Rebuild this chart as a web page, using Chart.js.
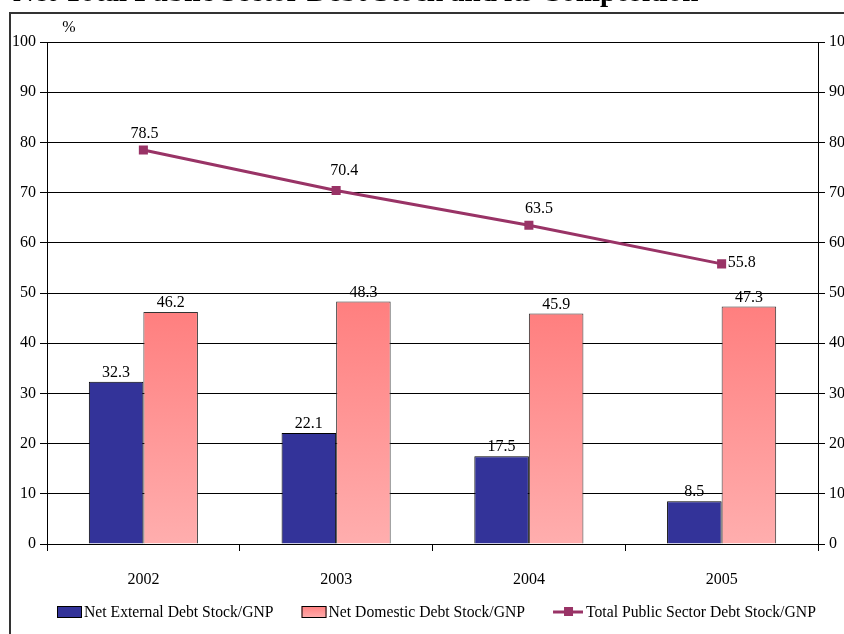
<!DOCTYPE html>
<html>
<head>
<meta charset="utf-8">
<script src="https://cdn.jsdelivr.net/npm/chart.js@4"></script>
<style>
  html, body { margin: 0; padding: 0; background: #fff; }
  #wrap { width: 844px; height: 634px; position: relative; }
</style>
</head>
<body>
<div id="wrap"><canvas id="debtChart" width="844" height="634"></canvas></div>
<script>
// Net public sector debt stock as a share of GNP
const years = ['2002', '2003', '2004', '2005'];
const externalDebt = [32.3, 22.1, 17.5, 8.5];
const domesticDebt = [46.2, 48.3, 45.9, 47.3];
const totalDebt = [78.5, 70.4, 63.5, 55.8];
const yTicks = [0, 10, 20, 30, 40, 50, 60, 70, 80, 90, 100];
const seriesNames = [
  'Net External Debt Stock/GNP',
  'Net Domestic Debt Stock/GNP',
  'Total Public Sector Debt Stock/GNP'
];
const titleText = 'Net Total Public Sector Debt Stock and its Composition';
const unitLabel = '%';

const SERIF = "'Liberation Serif', 'Times New Roman', serif";
const BLUE = '#333399';
const PINK_TOP = '#ff7f7f';
const PINK_BOTTOM = '#ffaeae';
const PLUM = '#993366';

Chart.defaults.font.family = SERIF;
Chart.defaults.font.size = 16;
Chart.defaults.color = '#000';

function pinkGradient(ctx2d, top, bottom) {
  const g = ctx2d.createLinearGradient(0, top, 0, bottom);
  g.addColorStop(0, PINK_TOP);
  g.addColorStop(1, PINK_BOTTOM);
  return g;
}

// Page frame, clipped heading and unit label
const framePlugin = {
  id: 'frame',
  beforeDraw(chart) {
    const c = chart.ctx;
    c.save();
    c.fillStyle = '#fff';
    c.fillRect(0, 0, chart.width, chart.height);
    c.restore();
  },
  afterDraw(chart) {
    const c = chart.ctx;
    c.save();
    c.strokeStyle = '#333';
    c.lineWidth = 2;
    c.beginPath();
    c.moveTo(10, chart.height);
    c.lineTo(10, 13);
    c.lineTo(chart.width, 13);
    c.stroke();

    // heading sits mostly above the top edge of the page
    c.fillStyle = '#000';
    c.font = 'bold 29px ' + SERIF;
    c.textAlign = 'left';
    c.textBaseline = 'alphabetic';
    c.fillText(titleText, 13, 1);

    c.font = '16px ' + SERIF;
    c.textAlign = 'center';
    c.textBaseline = 'middle';
    c.fillText(unitLabel, 69, 28);
    c.restore();
  }
};

// Value labels above bars and beside the line markers
const lineLabelPlacement = [
  { dx: 1, dy: -12, align: 'center', baseline: 'alphabetic' },
  { dx: 8, dy: -16, align: 'center', baseline: 'alphabetic' },
  { dx: 10, dy: -12, align: 'center', baseline: 'alphabetic' },
  { dx: 6, dy: -1, align: 'left', baseline: 'middle' }
];
const valueLabelPlugin = {
  id: 'valueLabels',
  afterDatasetsDraw(chart) {
    const c = chart.ctx;
    c.save();
    c.fillStyle = '#000';
    c.font = '16px ' + SERIF;
    chart.data.datasets.forEach((ds, di) => {
      const meta = chart.getDatasetMeta(di);
      meta.data.forEach((el, i) => {
        const text = ds.data[i].toFixed(1);
        if (ds.type === 'line') {
          const p = lineLabelPlacement[i];
          c.textAlign = p.align;
          c.textBaseline = p.baseline;
          c.fillText(text, el.x + p.dx, el.y + p.dy);
        } else {
          c.textAlign = 'center';
          c.textBaseline = 'alphabetic';
          c.fillText(text, el.x, el.y - 5);
        }
      });
    });
    c.restore();
  }
};

// Legend row along the bottom
const legendPlugin = {
  id: 'bottomLegend',
  afterDraw(chart) {
    const c = chart.ctx;
    const y = 612;
    let x = 57;
    c.save();
    c.font = '15.7px ' + SERIF;
    c.textBaseline = 'middle';
    c.textAlign = 'left';
    chart.data.datasets.forEach((ds) => {
      if (ds.type === 'line') {
        c.strokeStyle = ds.borderColor;
        c.lineWidth = 3;
        c.beginPath();
        c.moveTo(x, y);
        c.lineTo(x + 30, y);
        c.stroke();
        c.fillStyle = ds.pointBackgroundColor;
        c.fillRect(x + 11, y - 5, 9, 9);
        x += 33;
      } else {
        c.fillStyle = ds.legendFill === 'gradient' ? pinkGradient(c, y - 6, y + 6) : ds.legendFill;
        c.fillRect(x, y - 6, 25, 12);
        c.strokeStyle = '#000';
        c.lineWidth = 1;
        c.strokeRect(x + 0.5, y - 5.5, 24, 11);
        x += 27;
      }
      c.fillStyle = '#000';
      c.fillText(ds.label, x, y + 1);
      x += c.measureText(ds.label).width + 28;
    });
    c.restore();
  }
};

const useTicks = (scale) => { scale.ticks = yTicks.map(v => ({ value: v })); };

new Chart(document.getElementById('debtChart'), {
  data: {
    labels: years,
    datasets: [
      {
        type: 'bar',
        label: seriesNames[0],
        data: externalDebt,
        backgroundColor: BLUE,
        legendFill: BLUE,
        borderColor: '#000',
        borderWidth: 1,
        borderSkipped: 'bottom',
        order: 2,
        yAxisID: 'y'
      },
      {
        type: 'bar',
        label: seriesNames[1],
        data: domesticDebt,
        legendFill: 'gradient',
        backgroundColor(ctx) {
          const chart = ctx.chart;
          if (!chart.chartArea || ctx.type !== 'data') return '#ff9696';
          const top = chart.scales.y.getPixelForValue(ctx.raw);
          const base = chart.scales.y.getPixelForValue(0);
          return pinkGradient(chart.ctx, top, base);
        },
        borderColor: '#333',
        borderWidth: 1,
        borderSkipped: 'bottom',
        order: 2,
        yAxisID: 'y'
      },
      {
        type: 'line',
        label: seriesNames[2],
        data: totalDebt,
        borderColor: PLUM,
        borderWidth: 3,
        pointStyle: 'rect',
        pointRadius: 6.4,
        pointBackgroundColor: PLUM,
        pointBorderColor: PLUM,
        pointBorderWidth: 0,
        tension: 0,
        order: 0,
        yAxisID: 'y'
      }
    ]
  },
  options: {
    responsive: false,
    animation: false,
    devicePixelRatio: 1,
    layout: { padding: { top: 42, left: 0, right: 0, bottom: 0 } },
    datasets: {
      bar: { categoryPercentage: 0.566, barPercentage: 1 }
    },
    plugins: {
      legend: { display: false },
      tooltip: { enabled: false },
      title: { display: false }
    },
    scales: {
      x: {
        type: 'category',
        offset: true,
        grid: {
          offset: true,
          drawOnChartArea: false,
          drawTicks: true,
          tickLength: 7,
          tickColor: '#000',
          color: '#000'
        },
        border: { display: true, color: '#000', width: 1 },
        ticks: { color: '#000', padding: 19, font: { size: 16 } },
        afterFit(scale) { scale.height = 90; }
      },
      y: {
        position: 'left',
        min: 0,
        max: 100,
        afterBuildTicks: useTicks,
        grid: { color: '#000', lineWidth: 1, tickLength: 7, tickColor: '#000' },
        border: { display: true, color: '#000', width: 1 },
        ticks: { color: '#000', padding: 4, font: { size: 16 } },
        afterFit(scale) { scale.width = 47; }
      },
      y2: {
        position: 'right',
        min: 0,
        max: 100,
        afterBuildTicks: useTicks,
        grid: { drawOnChartArea: false, tickLength: 7, tickColor: '#000' },
        border: { display: true, color: '#000', width: 1 },
        ticks: { color: '#000', padding: 4, font: { size: 16 } },
        afterFit(scale) { scale.width = 26; }
      }
    }
  },
  plugins: [framePlugin, valueLabelPlugin, legendPlugin]
});
</script>
</body>
</html>
